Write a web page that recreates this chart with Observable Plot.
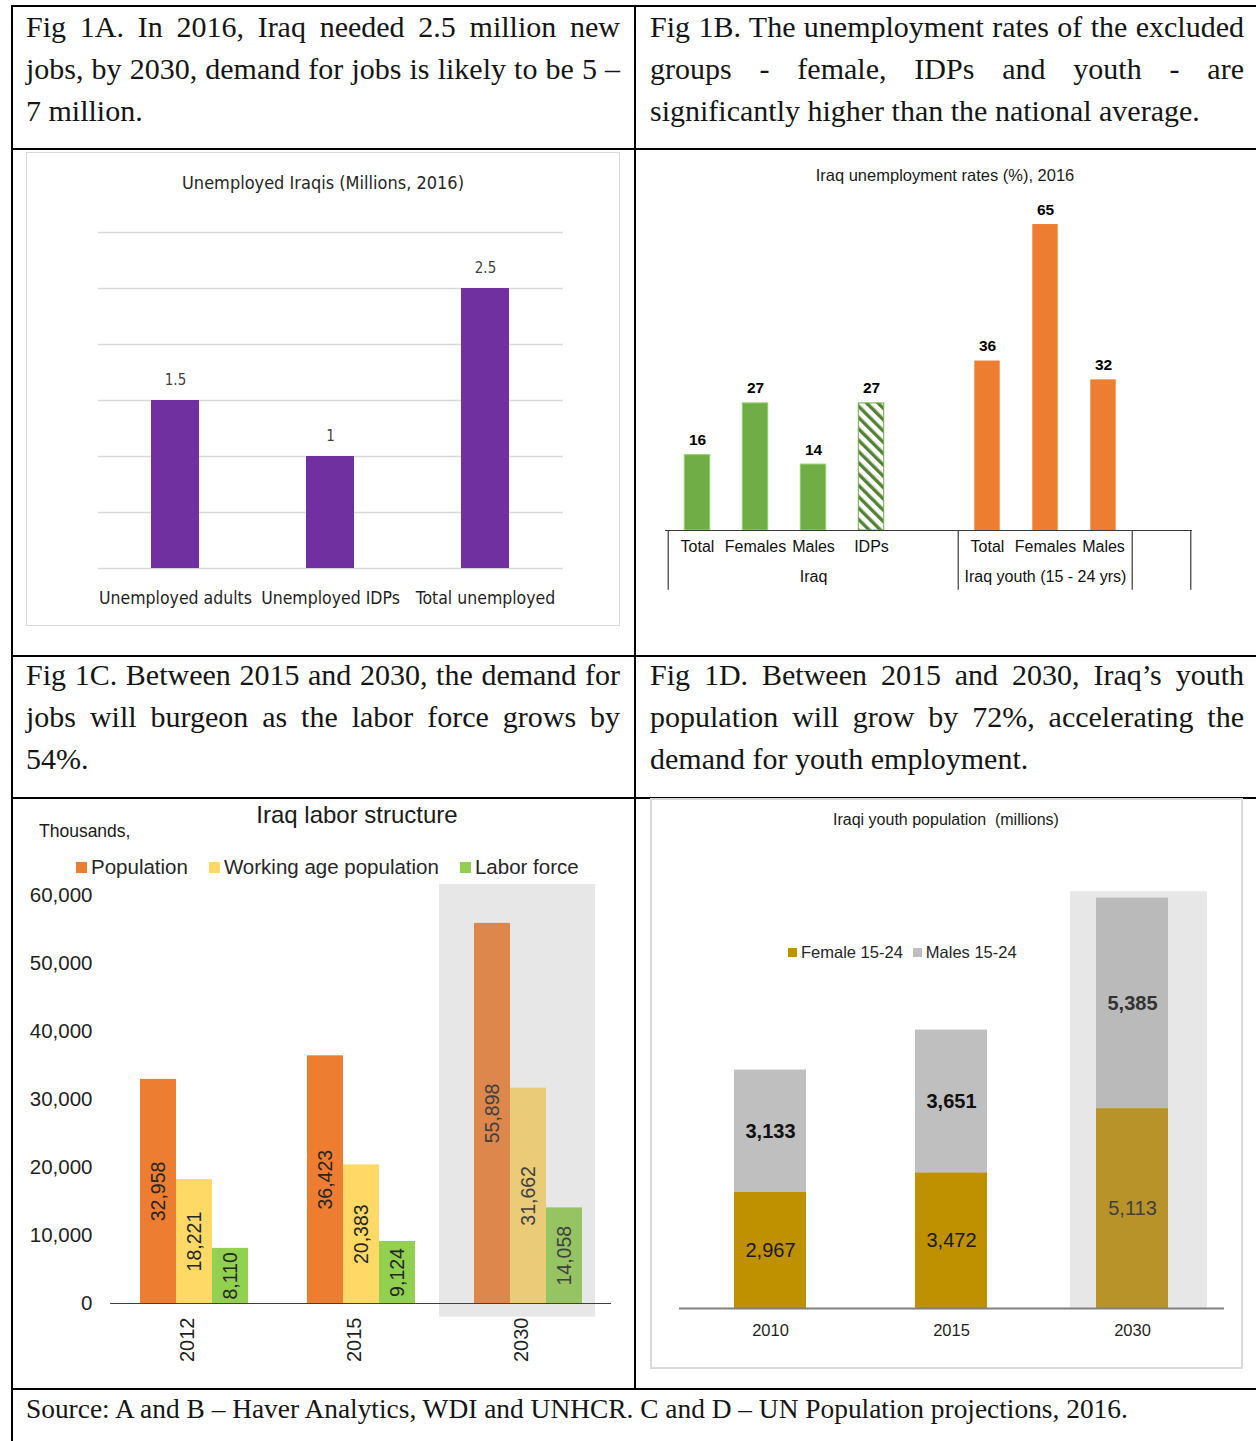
<!DOCTYPE html>
<html>
<head>
<meta charset="utf-8">
<script src="https://cdn.jsdelivr.net/npm/d3@7"></script>
<script src="https://cdn.jsdelivr.net/npm/@observablehq/plot@0.6"></script>
<style>
  body { margin: 0; background: #fff; }
  #page { position: relative; width: 1256px; height: 1441px; overflow: hidden; font-family: Arial, "Liberation Sans", sans-serif; color: #222; }
  .hl { position: absolute; height: 2px; background: #000; }
  .vl { position: absolute; width: 2px; background: #000; }
  .note { position: absolute; width: 594px; font-family: "Liberation Serif", "Times New Roman", serif; font-size: 30px; line-height: 42px; color: #151515; }
  .note .ln { display: block; white-space: nowrap; text-align: justify; text-align-last: justify; }
  .note .ln.last { text-align-last: left; }
  .source { position: absolute; left: 26px; top: 1390px; font-family: "Liberation Serif", "Times New Roman", serif; font-size: 27.4px; line-height: 38px; color: #151515; white-space: nowrap; }
  .panel { position: absolute; box-sizing: border-box; }
  .abs { position: absolute; }
  .ctitle { position: absolute; text-align: center; white-space: nowrap; }
  .legend { position: absolute; display: flex; align-items: center; white-space: nowrap; }
  .legend .sw { display: inline-block; }
</style>
</head>
<body>
<div id="page"></div>
<script>
// ---------- Fig 1A: unemployed Iraqis (millions, 2016) ----------
const unemployedCategories = ["Unemployed adults", "Unemployed IDPs", "Total unemployed"];
const unemployedMillions = [1.5, 1, 2.5];
const unemployedGridTicks = [0, 0.5, 1, 1.5, 2, 2.5, 3];

// ---------- Fig 1B: unemployment rates (%), 2016 ----------
const rateGroup = ["Iraq", "Iraq", "Iraq", "Iraq", "Iraq youth (15 - 24 yrs)", "Iraq youth (15 - 24 yrs)", "Iraq youth (15 - 24 yrs)"];
const rateCategory = ["Total", "Females", "Males", "IDPs", "Total", "Females", "Males"];
const rateValues = [16, 27, 14, 27, 36, 65, 32];
// multi-level category axis: slots per group ("" = empty slot)
const rateAxis = [
  {group: "Iraq", slots: ["Total", "Females", "Males", "IDPs", ""]},
  {group: "Iraq youth (15 - 24 yrs)", slots: ["Total", "Females", "Males"]},
  {group: "", slots: [""]}
];

// ---------- Fig 1C: labor structure (thousands) ----------
const laborYears = ["2012", "2015", "2030"];
const laborSeries = ["Population", "Working age population", "Labor force"];
const laborPopulation = [32958, 36423, 55898];
const laborWorkingAge = [18221, 20383, 31662];
const laborForce = [8110, 9124, 14058];
const laborTicks = [0, 10000, 20000, 30000, 40000, 50000, 60000];
const laborProjectedYear = "2030";

// ---------- Fig 1D: youth population ----------
const youthYears = ["2010", "2015", "2030"];
const youthSeries = ["Female 15-24", "Males 15-24"];
const youthFemale = [2967, 3472, 5113];
const youthMale = [3133, 3651, 5385];
const youthProjectedYear = "2030";

// ---------- notes ----------
const noteA = ["Fig 1A. In 2016, Iraq needed 2.5 million new", "jobs, by 2030, demand for jobs is likely to be 5 –", "7 million."];
const noteB = ["Fig 1B. The unemployment rates of the excluded", "groups - female, IDPs and youth - are", "significantly higher than the national average."];
const noteC = ["Fig 1C. Between 2015 and 2030, the demand for", "jobs will burgeon as the labor force grows by", "54%."];
const noteD = ["Fig 1D. Between 2015 and 2030, Iraq’s youth", "population will grow by 72%, accelerating the", "demand for youth employment."];
const sourceText = "Source: A and B – Haver Analytics, WDI and UNHCR. C and D – UN Population projections, 2016.";

const narrowFont = '"Liberation Sans Narrow", "DejaVu Sans Condensed", "Roboto Condensed", Arial, sans-serif';
const sansFont = 'Arial, "Liberation Sans", sans-serif';
const page = document.getElementById("page");

function el(tag, cls, css, html) {
  const e = document.createElement(tag);
  if (cls) e.className = cls;
  if (css) Object.assign(e.style, css);
  if (html != null) e.textContent = html;
  page.appendChild(e);
  return e;
}
function place(node, left, top) {
  const wrap = el("div", "abs", {left: left + "px", top: top + "px"});
  wrap.appendChild(node);
}
function note(lines, left, top) {
  const box = el("div", "note", {left: left + "px", top: top + "px"});
  lines.forEach((t, i) => {
    const s = document.createElement("span");
    s.className = "ln" + (i === lines.length - 1 ? " last" : "");
    s.textContent = t;
    box.appendChild(s);
  });
}
function legend(items, left, top, fontSize, swatch, gap, itemGap, font) {
  const lg = el("div", "legend", {left: left + "px", top: top + "px", fontSize: fontSize + "px", fontFamily: font, color: "#262626"});
  items.forEach(([label, color], i) => {
    const sw = document.createElement("span");
    sw.className = "sw";
    Object.assign(sw.style, {width: swatch + "px", height: swatch + "px", background: color, marginRight: gap + "px", marginLeft: i ? itemGap + "px" : "0"});
    lg.appendChild(sw);
    const t = document.createElement("span");
    t.textContent = label;
    lg.appendChild(t);
  });
}

// ---------- table grid ----------
[[12, 5, 1246], [12, 148, 1246], [12, 655, 1246], [12, 797, 1246], [12, 1388, 1246]]
  .forEach(([x, y, w]) => el("div", "hl", {left: x + "px", top: y + "px", width: w + "px"}));
el("div", "vl", {left: "11px", top: "5px", height: "1436px"});
el("div", "vl", {left: "634px", top: "5px", height: "1384px"});

note(noteA, 26, 6);
note(noteB, 650, 6);
note(noteC, 26, 654);
note(noteD, 650, 654);
el("div", "source", null, sourceText);

// ---------- Fig 1A ----------
el("div", "panel", {left: "26px", top: "152px", width: "594px", height: "474px", border: "1px solid #d9d9d9"});
el("div", "ctitle", {left: "26px", top: "172px", width: "594px", fontFamily: narrowFont, fontSize: "18px", lineHeight: "22px", color: "#262626"}, "Unemployed Iraqis (Millions, 2016)");
const unemployedRows = unemployedCategories.map((category, i) => ({category, value: unemployedMillions[i]}));
place(Plot.plot({
  width: 594, height: 420,
  marginLeft: 72, marginRight: 57, marginTop: 32, marginBottom: 52,
  style: {fontFamily: narrowFont, fontSize: "17px", color: "#1f1f1f", background: "transparent", overflow: "visible"},
  x: {domain: unemployedCategories, paddingInner: 0.69, paddingOuter: 0.345, label: null},
  y: {domain: [0, 3], axis: null},
  marks: [
    Plot.gridY(unemployedGridTicks, {stroke: "#d9d9d9", strokeOpacity: 1, strokeWidth: 1.5}),
    Plot.barY(unemployedRows, {x: "category", y: "value", fill: "#7030a0"}),
    Plot.text(unemployedRows, {x: "category", y: "value", text: d => String(d.value), dy: -20, fill: "#404040", fontSize: 15}),
    Plot.axisX({tickSize: 0, tickPadding: 23, fontSize: 17.5, label: null})
  ]
}), 26, 200);

// ---------- Fig 1B ----------
el("div", "ctitle", {left: "640px", top: "166px", width: "610px", fontFamily: sansFont, fontSize: "16.5px", lineHeight: "18px", color: "#1a1a1a"}, "Iraq unemployment rates (%), 2016");
const slotKey = (group, category, i) => `${group}|${category || "blank" + i}`;
const rateDomain = rateAxis.flatMap(({group, slots}) => slots.map((c, i) => slotKey(group, c, i)));
const rateRows = rateValues.map((value, i) => ({group: rateGroup[i], category: rateCategory[i], value, key: slotKey(rateGroup[i], rateCategory[i], i)}));
const rateColor = {"Iraq": "#70ad47", "Iraq youth (15 - 24 yrs)": "#ed7d31"};
const hatched = "IDPs";
const bW = 616, bML = 25, bMR = 64;
const bStep = (bW - bML - bMR) / rateDomain.length;
const groupStarts = rateAxis.map(g => slotKey(g.group, g.slots[0], 0));
const groupEnd = [rateDomain[rateDomain.length - 1]];
const groupLabels = rateAxis.filter(g => g.group).map(g => {
  const mid = Math.floor((g.slots.length - 1) / 2);
  return {group: g.group, key: slotKey(g.group, g.slots[mid], mid)};
});
const axisDepth = -12.7; // category-axis divider length below the baseline, in % units
const figB = Plot.plot({
  width: bW, height: 410,
  marginLeft: bML, marginRight: bMR, marginTop: 10.5, marginBottom: 70,
  style: {fontFamily: sansFont, fontSize: "16px", color: "#111", background: "transparent", overflow: "visible"},
  x: {domain: rateDomain, padding: 0, axis: null},
  y: {domain: [0, 70], axis: null},
  color: {type: "identity"},
  marks: [
    Plot.barY(rateRows, {
      x: "key", y: "value", insetLeft: 16.3, insetRight: 16.3,
      fill: d => d.category === hatched ? "url(#idp-hatch)" : rateColor[d.group],
      stroke: d => d.category === hatched ? rateColor[d.group] : "#8fce6a",
      strokeOpacity: d => d.category === hatched || d.group === "Iraq" ? 1 : 0,
      strokeWidth: 1
    }),
    Plot.text(rateRows, {x: "key", y: "value", text: d => String(d.value), dy: -15, fontWeight: "bold", fontSize: 15.5, fill: "#000"}),
    Plot.ruleY([0], {stroke: "#3a3a3a", strokeWidth: 1.2}),
    Plot.ruleX(groupStarts, {x: d => d, y1: 0, y2: axisDepth, dx: -bStep / 2, stroke: "#3a3a3a", strokeWidth: 1.2}),
    Plot.ruleX(groupEnd, {x: d => d, y1: 0, y2: axisDepth, dx: bStep / 2, stroke: "#3a3a3a", strokeWidth: 1.2}),
    Plot.text(rateRows, {x: "key", text: "category", frameAnchor: "bottom", dy: 21, fill: "#111"}),
    Plot.text(groupLabels, {x: "key", text: "group", frameAnchor: "bottom", dy: 51, fill: "#111"})
  ]
});
const defs = d3.select(figB).insert("defs", ":first-child");
const pat = defs.append("pattern").attr("id", "idp-hatch").attr("patternUnits", "userSpaceOnUse")
  .attr("width", 8).attr("height", 8).attr("patternTransform", "rotate(-45)");
pat.append("rect").attr("width", 8).attr("height", 8).attr("fill", "#fff");
pat.append("rect").attr("width", 3.4).attr("height", 8).attr("fill", "#548235");
place(figB, 640, 190);

// ---------- Fig 1C ----------
el("div", "ctitle", {left: "157px", top: "801px", width: "400px", fontFamily: sansFont, fontSize: "24px", lineHeight: "28px", color: "#1a1a1a"}, "Iraq labor structure");
el("div", "abs", {left: "39px", top: "821px", fontFamily: sansFont, fontSize: "17.5px", lineHeight: "20px", color: "#1a1a1a"}, "Thousands,");
const laborColor = {"Population": "#ed7d31", "Working age population": "#ffd966", "Labor force": "#92d050"};
const laborColorMuted = {"Population": "#dd874c", "Working age population": "#e9cb78", "Labor force": "#97c463"};
legend(laborSeries.map(s => [s, laborColor[s]]), 76, 855, 20.5, 11, 4, 21, sansFont);
const laborValues = [laborPopulation, laborWorkingAge, laborForce];
const laborRows = laborYears.flatMap((year, i) => laborSeries.map((series, j) => ({year, series, value: laborValues[j][i]})));
const laborHighlight = [{year: laborProjectedYear, low: -2000, high: 61600}];
place(Plot.plot({
  width: 620, height: 500,
  marginLeft: 96, marginRight: 23, marginTop: 15, marginBottom: 77,
  style: {fontFamily: sansFont, fontSize: "18px", color: "#1f1f1f", background: "transparent", overflow: "visible"},
  fx: {domain: laborYears, padding: 0, axis: null},
  x: {domain: laborSeries, paddingInner: 0, paddingOuter: 0.757, axis: null},
  y: {domain: [0, 60000], axis: null},
  color: {type: "identity"},
  marks: [
    Plot.barY(laborHighlight, {fx: "year", y1: "low", y2: "high", fill: "#e7e7e7", insetLeft: -5, insetRight: 16}),
    Plot.barY(laborRows, {fx: "year", x: "series", y: "value", fill: d => (d.year === laborProjectedYear ? laborColorMuted : laborColor)[d.series]}),
    Plot.text(laborRows, {fx: "year", x: "series", y: d => d.value / 2, text: d => d.value.toLocaleString("en-US"), rotate: -90, fontSize: 19.5, fill: d => d.year === laborProjectedYear ? "#404040" : "#262626"}),
    Plot.ruleY([0], {stroke: "#404040", strokeWidth: 1.2}),
    Plot.axisY(laborTicks, {tickSize: 0, tickPadding: 18, fontSize: 20.5, label: null, tickFormat: d => d.toLocaleString("en-US"), fill: "#1f1f1f"}),
    Plot.text(laborYears, {fx: d => d, text: d => d, frameAnchor: "bottom", dy: 14, rotate: -90, textAnchor: "end", fontSize: 20, fill: "#1f1f1f"})
  ]
}), 14, 880);

// ---------- Fig 1D ----------
el("div", "panel", {left: "650px", top: "798px", width: "593px", height: "571px", border: "2.5px solid #d9d9d9"});
el("div", "ctitle", {left: "746px", top: "810px", width: "400px", fontFamily: sansFont, fontSize: "16px", lineHeight: "20px", color: "#1a1a1a", whiteSpace: "pre"}, "Iraqi youth population  (millions)");
const youthColor = {"Female 15-24": "#bf9000", "Males 15-24": "#bfbfbf"};
const youthColorMuted = {"Female 15-24": "#b8932a", "Males 15-24": "#bababa"};
legend(youthSeries.map(s => [s, youthColor[s]]), 788, 943, 16.5, 9, 4, 10, sansFont);
const youthValues = [youthFemale, youthMale];
const youthRows = youthYears.flatMap((year, i) => youthSeries.map((sex, j) => ({year, sex, value: youthValues[j][i]})));
const youthHighlight = [{year: youthProjectedYear, high: 10660}];
const fmt = d => d.toLocaleString("en-US");
place(Plot.plot({
  width: 580, height: 480,
  marginLeft: 19, marginRight: 16, marginTop: 8, marginBottom: 42,
  style: {fontFamily: sansFont, fontSize: "16.5px", color: "#1f1f1f", background: "transparent", overflow: "visible"},
  x: {domain: youthYears, paddingInner: 0.6, paddingOuter: 0.3, label: null},
  y: {domain: [0, 11000], axis: null},
  color: {type: "identity"},
  marks: [
    Plot.barY(youthHighlight, {x: "year", y1: 0, y2: "high", fill: "#e7e7e7", insetLeft: -26, insetRight: -39}),
    Plot.barY(youthRows, {x: "year", y: "value", z: "sex", fill: d => (d.year === youthProjectedYear ? youthColorMuted : youthColor)[d.sex]}),
    Plot.text(youthRows, Plot.stackY({x: "year", y: "value", z: "sex", text: d => d.sex === "Female 15-24" ? fmt(d.value) : null, fontSize: 20, fill: d => d.year === youthProjectedYear ? "#404040" : "#1a1a1a"})),
    Plot.text(youthRows, Plot.stackY({x: "year", y: "value", z: "sex", text: d => d.sex === "Males 15-24" ? fmt(d.value) : null, fontSize: 20, fontWeight: "bold", fill: d => d.year === youthProjectedYear ? "#333" : "#111"})),
    Plot.ruleY([0], {stroke: "#808080", strokeWidth: 2}),
    Plot.axisX({tickSize: 0, tickPadding: 16, label: null})
  ]
}), 660, 870);
</script>
</body>
</html>
